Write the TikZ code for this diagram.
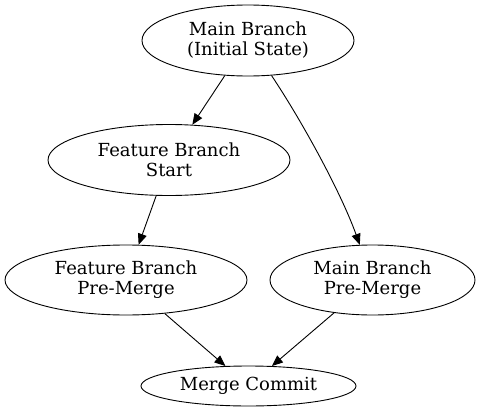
\documentclass[tikz,border=0pt]{standalone}
\usepackage{fontspec}
\setmainfont{DejaVu Serif}
\usetikzlibrary{shapes.geometric,arrows.meta}
\begin{document}
\begin{tikzpicture}[x=1pt,y=-1pt,
  gnode/.style={draw,ellipse,inner sep=0pt,align=center,line width=0.9pt,
    font=\fontsize{18}{20}\selectfont},
  gedge/.style={draw,line width=0.9pt,-{Triangle[length=11pt,width=9pt]}}]
\useasboundingbox (0,0) rectangle (480,418);
\node[gnode,minimum width=212pt,minimum height=71pt] (main) at (248,40.5) {Main Branch\\(Initial State)};
\node[gnode,minimum width=242pt,minimum height=71pt] (fs) at (169,160) {Feature Branch\\Start};
\node[gnode,minimum width=242pt,minimum height=70pt] (fpm) at (126,280) {Feature Branch\\Pre-Merge};
\node[gnode,minimum width=205pt,minimum height=70pt] (mpm) at (372.5,280) {Main Branch\\Pre-Merge};
\node[gnode,minimum width=215pt,minimum height=40pt] (mc) at (248.5,386) {Merge Commit};
\draw[gedge] (main) -- (fs);
\draw[gedge] (main) .. controls (300,118) and (340,190) .. (mpm);
\draw[gedge] (fs) -- (fpm);
\draw[gedge] (fpm) -- (mc);
\draw[gedge] (mpm) -- (mc);
\end{tikzpicture}
\end{document}
